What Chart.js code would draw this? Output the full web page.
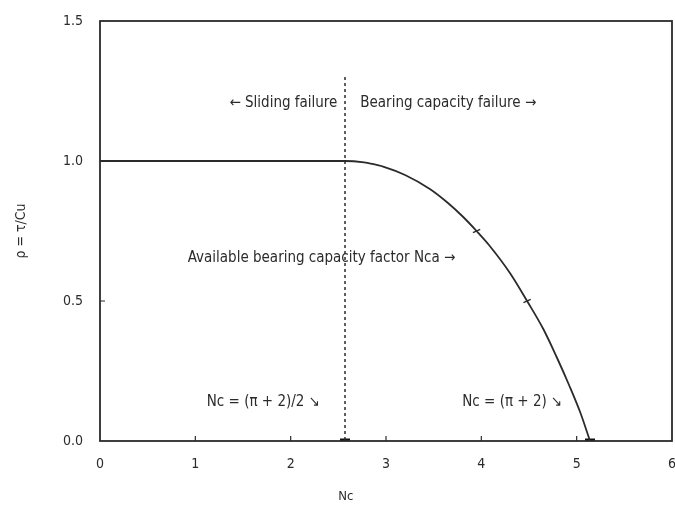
<!DOCTYPE html>
<html>
<head>
<meta charset="utf-8">
<script src="https://cdn.jsdelivr.net/npm/chart.js@4.4.1/dist/chart.umd.min.js"></script>
<style>
  html, body { margin: 0; padding: 0; background: #fff; }
  #wrap { width: 675px; height: 508px; }
</style>
</head>
<body>
<div id="wrap"><canvas id="chart" width="675" height="508"></canvas></div>
<script>
// values
const ncValues  = [0, 2.57, 2.77, 2.85, 2.97, 3.20, 3.46, 3.65, 3.81, 3.95, 4.08, 4.30, 4.48, 4.65, 4.79, 4.92, 5.04, 5.14];
const rhoValues = [1.0, 1.0, 0.995, 0.99, 0.98, 0.95, 0.90, 0.85, 0.80, 0.75, 0.70, 0.60, 0.50, 0.40, 0.30, 0.20, 0.10, 0.0];

// dashed boundary at Nc = (pi + 2) / 2
const boundaryNc  = [2.57, 2.57];
const boundaryRho = [1.3, 0.0];

// small tick marks on the curve, and the two marks on the Nc axis
const curveMarkNc  = [3.95, 4.48];
const curveMarkRho = [0.75, 0.50];
const axisMarkNc   = [2.57, 5.14];
const axisMarkRho  = [0.0, 0.0];

const xTicks = [0, 1, 2, 3, 4, 5, 6];
const yTicks = [0.0, 0.5, 1.0, 1.5];

// text notes placed in data units
const noteText  = ['\u2190 Sliding failure', 'Bearing capacity failure \u2192', 'Available bearing capacity factor Nca \u2192', 'Nc = (\u03c0 + 2)/2 \u2198', 'Nc = (\u03c0 + 2) \u2198'];
const noteNc    = [2.49, 2.73, 0.92, 1.12, 3.80];
const noteRho   = [1.207, 1.207, 0.654, 0.139, 0.139];
const noteAlign = ['right', 'left', 'left', 'left', 'left'];
const xTitle = 'Nc';
const xTitleAt = 2.58;

const ink = '#2b2b2b';
const fontFam = '"DejaVu Sans Condensed", "Liberation Sans Narrow", "DejaVu Sans", sans-serif';

const toPts = (xs, ys) => xs.map((x, i) => ({ x: x, y: ys[i] }));

// frame, inward ticks and notes
const extras = {
    id: 'extras',
    afterDatasetsDraw(chart) {
        const ctx = chart.ctx;
        const a = chart.chartArea;
        const xs = chart.scales.x, ys = chart.scales.y;
        ctx.save();
        ctx.strokeStyle = ink;
        ctx.lineWidth = 1.8;
        ctx.strokeRect(a.left, a.top, a.right - a.left, a.bottom - a.top);
        ctx.lineWidth = 1.2;
        ctx.beginPath();
        xTicks.slice(1, -1).forEach(v => {
            const px = xs.getPixelForValue(v);
            ctx.moveTo(px, a.bottom);
            ctx.lineTo(px, a.bottom - 5);
        });
        const py = ys.getPixelForValue(0.5);
        ctx.moveTo(a.left, py);
        ctx.lineTo(a.left + 5, py);
        ctx.stroke();

        ctx.fillStyle = ink;
        ctx.font = '15px ' + fontFam;
        ctx.textBaseline = 'middle';
        noteText.forEach((t, i) => {
            ctx.textAlign = noteAlign[i];
            ctx.fillText(t, xs.getPixelForValue(noteNc[i]), ys.getPixelForValue(noteRho[i]));
        });
        ctx.font = '13px ' + fontFam;
        ctx.textAlign = 'center';
        ctx.fillText(xTitle, xs.getPixelForValue(xTitleAt), a.bottom + 56);
        ctx.restore();
    }
};

new Chart(document.getElementById('chart'), {
    type: 'scatter',
    data: {
        datasets: [
            {
                data: toPts(ncValues, rhoValues),
                showLine: true,
                borderColor: ink,
                borderWidth: 1.8,
                pointRadius: 0,
                cubicInterpolationMode: 'monotone'
            },
            {
                data: toPts(boundaryNc, boundaryRho),
                showLine: true,
                borderColor: ink,
                borderWidth: 1.5,
                borderDash: [3, 3],
                pointRadius: 0
            },
            {
                data: toPts(curveMarkNc, curveMarkRho),
                pointStyle: 'line',
                pointRadius: 4,
                rotation: -25,
                borderColor: ink,
                borderWidth: 1.4
            },
            {
                data: toPts(axisMarkNc, axisMarkRho),
                pointStyle: 'line',
                pointRadius: 5,
                borderColor: '#111',
                borderWidth: 5
            }
        ]
    },
    options: {
        responsive: false,
        animation: false,
        layout: { autoPadding: false, padding: { top: 21, right: 3, left: 0, bottom: 0 } },
        plugins: { legend: { display: false }, tooltip: { enabled: false } },
        scales: {
            x: {
                type: 'linear',
                min: 0,
                max: 6,
                afterFit: s => { s.height = 67; s.paddingLeft = 0; s.paddingRight = 0; },
                afterBuildTicks: s => { s.ticks = xTicks.map(v => ({ value: v })); },
                grid: { display: false, drawTicks: false },
                border: { display: false },
                ticks: { color: ink, padding: 15, font: { family: fontFam, size: 14 } },
                title: { display: false }
            },
            y: {
                type: 'linear',
                min: 0,
                max: 1.5,
                afterFit: s => { s.width = 100; s.paddingTop = 0; s.paddingBottom = 0; },
                afterBuildTicks: s => { s.ticks = yTicks.map(v => ({ value: v })); },
                grid: { display: false, drawTicks: false },
                border: { display: false },
                ticks: { color: ink, padding: 17, font: { family: fontFam, size: 14 }, callback: v => Number(v).toFixed(1) },
                title: { display: true, text: '\u03c1 = \u03c4/Cu', color: ink, padding: { top: 13, bottom: 4 }, font: { family: fontFam, size: 14 } }
            }
        }
    },
    plugins: [extras]
});
</script>
</body>
</html>
